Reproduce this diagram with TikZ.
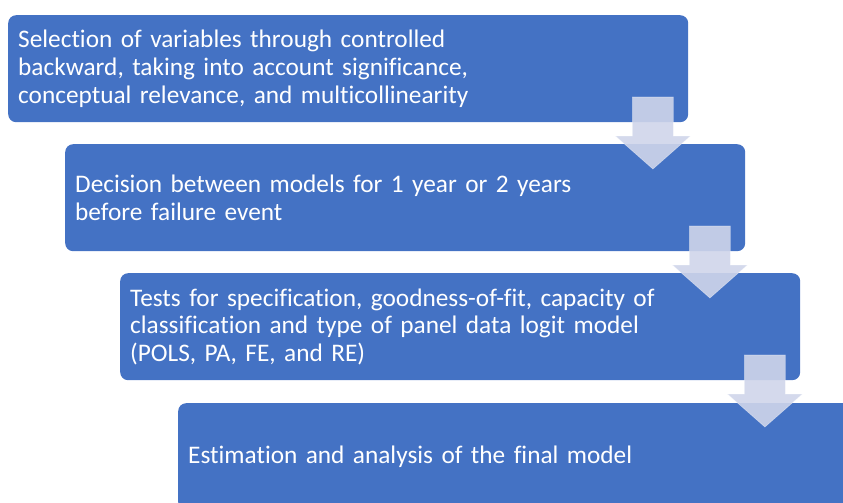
\documentclass[tikz,border=0pt]{standalone}
\usepackage{fontspec}
\setmainfont{Carlito}[Ligatures=NoCommon]
\usetikzlibrary{calc}
\definecolor{stepblue}{HTML}{4472C4}
\definecolor{arrowtint}{HTML}{CFD5EA}
\tikzset{
  stepbox/.style={fill=stepblue, rounded corners=8pt, text=white, anchor=north west,
    align=left, text width=660pt, inner xsep=10pt, inner ysep=0pt,
    minimum width=680pt, minimum height=107pt, font=\fontsize{25.3}{27.6}\selectfont},
  downarrow/.style={fill=arrowtint, fill opacity=0.9, draw=white, draw opacity=0.4, line width=0.6pt}
}
\begin{document}
\begin{tikzpicture}[x=1pt,y=-1pt]
  \clip (0,0) rectangle (843,503);
  %steps
  \node[stepbox] (select) at (8,15) {Selection of variables through controlled\\backward, taking into account significance,\\conceptual relevance, and multicollinearity};
  \node[stepbox] (decide) at (65,144) {Decision between models for 1 year or 2 years\\before failure event};
  \node[stepbox] (tests) at (120,273) {Tests for specification, goodness-of-fit, capacity of\\classification and type of panel data logit model\\(POLS, PA, FE, and RE)};
  \node[stepbox] (final) at (178,403) {Estimation and analysis of the final model};
  %arrows between steps
  \foreach \a in {select,decide,tests}
    \draw[downarrow] ($(\a.north east)+(-56,82)$) -- ++(41,0) -- ++(0,39) -- ++(17,0)
      -- ++(-37.5,33) -- ++(-37.5,-33) -- ++(17,0) -- cycle;
\end{tikzpicture}
\end{document}
